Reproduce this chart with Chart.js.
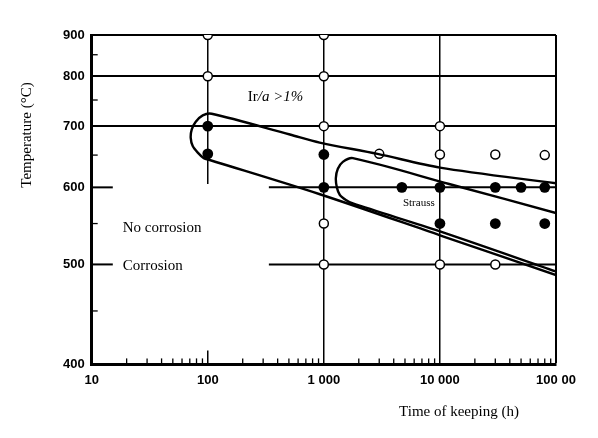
<!DOCTYPE html>
<html lang="en">
<head>
<meta charset="UTF-8" />
<title>Corrosion map</title>
<script src="https://cdn.jsdelivr.net/npm/chart.js"></script>
<style>
  html, body { margin: 0; padding: 0; background: #fff; }
  canvas { display: block; }
</style>
</head>
<body>
<canvas id="chart" width="598" height="438"></canvas>
<script>
  // axes: time of keeping (h), temperature (°C)
  const xTicks = [10, 100, 1000, 10000, 100000];
  const xTickLabels = ["10", "100", "1 000", "10 000", "100 00"];
  const xMinor = [20, 30, 40, 50, 60, 70, 80, 90];
  const yTicks = [400, 500, 600, 700, 800, 900];
  const yMinor = [450, 550, 650, 750, 850];
  const fullGridTemps = [700, 800, 900];
  const fullGridTimes = [1000, 10000, 100000];

  // test points
  const openTime = [100, 100, 1000, 1000, 1000, 10000, 3000, 10000, 30000, 80000, 1000, 1000, 10000, 30000];
  const openTemp = [900, 800, 900, 800, 700, 700, 652, 651, 651, 650, 550, 500, 500, 500];
  const fullTime = [100, 100, 1000, 1000, 4700, 10000, 30000, 50000, 80000, 10000, 30000, 80000];
  const fullTemp = [700, 652, 651, 600, 600, 600, 600, 600, 600, 550, 550, 550];

  // boundary Ir/a > 1%
  const outerTime = [100000, 10000, 2900, 920, 510, 108, 90.5, 78.8, 72.8, 71.3, 74.2, 82, 92.4, 104, 924, 10000, 100000];
  const outerTemp = [606, 630, 652, 671, 685, 723, 720, 708, 694, 679, 665, 654, 645, 642, 590, 535, 488];
  // boundary Strauss
  const innerTime = [100000, 12000, 1778, 1458, 1320, 1269, 1294, 1374, 1548, 1778, 10000, 100000];
  const innerTemp = [564, 605, 645, 639, 628, 614, 600, 589, 582, 577, 540, 492];

  // grid pieces broken by the label box
  const brokenGridTemps = [500, 600];
  const brokenGridFrom = 336;
  const stubTo = 15.2;
  const hundredLineTo = 605;

  const pts = (xs, ys) => xs.map((v, i) => ({ x: v, y: ys[i] }));

  // y axis spaced as 1/(T+273)
  class InvTempScale extends Chart.LinearScale {
    static id = "invtemp";
    static defaults = {};
    _inv(v) { return 1 / (v + 273); }
    getPixelForValue(v) {
      const a = this._inv(this.min), b = this._inv(this.max);
      return this.getPixelForDecimal((a - this._inv(v)) / (a - b));
    }
    getValueForPixel(p) {
      const a = this._inv(this.min), b = this._inv(this.max);
      const d = this.getDecimalForPixel(p);
      return 1 / (a - d * (a - b)) - 273;
    }
  }
  Chart.register(InvTempScale);

  const serif = "'Liberation Serif', 'Times New Roman', serif";
  const sans = "'Liberation Sans', Arial, sans-serif";

  const decor = {
    id: "decor",
    beforeDatasetsDraw(chart) {
      const { ctx, scales: { x, y } } = chart;
      const seg = (x1, y1, x2, y2) => { ctx.beginPath(); ctx.moveTo(x1, y1); ctx.lineTo(x2, y2); ctx.stroke(); };
      ctx.save();
      ctx.strokeStyle = "#000";
      ctx.lineWidth = 2;
      brokenGridTemps.forEach(T => {
        const py = y.getPixelForValue(T);
        seg(x.getPixelForValue(10), py, x.getPixelForValue(stubTo), py);
        seg(x.getPixelForValue(brokenGridFrom), py, x.getPixelForValue(100000), py);
      });
      ctx.lineWidth = 1.5;
      const p100 = x.getPixelForValue(100);
      seg(p100, y.getPixelForValue(900), p100, y.getPixelForValue(hundredLineTo));
      seg(p100, y.bottom, p100, y.bottom - 14);
      // minor ticks, pointing inward
      ctx.lineWidth = 1.3;
      yMinor.forEach(T => {
        const py = y.getPixelForValue(T);
        seg(x.left, py, x.left + 6, py);
      });
      [10, 100, 1000, 10000].forEach(dec => {
        xMinor.forEach(m => {
          const px = x.getPixelForValue(dec * m / 10);
          seg(px, y.bottom, px, y.bottom - 6);
        });
      });
      ctx.restore();
    },
    afterDraw(chart) {
      const { ctx, scales: { x, y } } = chart;
      ctx.save();
      ctx.fillStyle = "#000";
      ctx.textBaseline = "middle";
      ctx.textAlign = "left";
      let px = x.getPixelForValue(221);
      const py = y.getPixelForValue(755);
      ctx.font = "15px " + serif;
      ctx.fillText("Ir", px, py);
      px += ctx.measureText("Ir").width;
      ctx.font = "italic 15px " + serif;
      ctx.fillText("/a >1%", px, py);
      ctx.font = "15px " + serif;
      ctx.fillText("No corrosion", x.getPixelForValue(18.5), y.getPixelForValue(544));
      ctx.fillText("Corrosion", x.getPixelForValue(18.5), y.getPixelForValue(500) + 2);
      ctx.font = "11px " + serif;
      ctx.fillText("Strauss", x.getPixelForValue(4800), y.getPixelForValue(577));
      ctx.font = "15px " + serif;
      ctx.textAlign = "center";
      ctx.fillText("Time of keeping (h)", 459, 412);
      ctx.translate(27, 135);
      ctx.rotate(-Math.PI / 2);
      ctx.fillText("Temperature (°C)", 0, 0);
      ctx.restore();
    }
  };

  new Chart(document.getElementById("chart"), {
    type: "scatter",
    data: {
      datasets: [
        { data: pts(outerTime, outerTemp), showLine: true, borderColor: "#000", borderWidth: 2.4, pointRadius: 0, tension: 0.3 },
        { data: pts(innerTime, innerTemp), showLine: true, borderColor: "#000", borderWidth: 2.4, pointRadius: 0, tension: 0.3 },
        { data: pts(openTime, openTemp), pointRadius: 4.5, pointBackgroundColor: "#fff", pointBorderColor: "#000", pointBorderWidth: 1.5 },
        { data: pts(fullTime, fullTemp), pointRadius: 5.4, pointBackgroundColor: "#000", pointBorderColor: "#000", pointBorderWidth: 0 }
      ]
    },
    options: {
      responsive: false,
      animation: false,
      layout: { padding: { left: 56, right: 42, top: 35, bottom: 42 } },
      plugins: { legend: { display: false }, tooltip: { enabled: false } },
      scales: {
        x: {
          type: "logarithmic",
          min: 10,
          max: 100000,
          afterBuildTicks: s => { s.ticks = xTicks.map(v => ({ value: v })); },
          ticks: {
            autoSkip: false,
            maxRotation: 0,
            padding: 8,
            color: "#000",
            font: { family: sans, size: 13, weight: "bold" },
            callback: v => xTickLabels[xTicks.indexOf(v)]
          },
          grid: {
            drawTicks: false,
            color: c => fullGridTimes.includes(c.tick.value) ? "#000" : "rgba(0,0,0,0)",
            lineWidth: c => c.tick.value === 100000 ? 2 : 1.5
          },
          border: { display: true, color: "#000", width: 3 }
        },
        y: {
          type: "invtemp",
          min: 400,
          max: 900,
          bounds: "data",
          afterBuildTicks: s => { s.ticks = yTicks.map(v => ({ value: v })); },
          ticks: {
            autoSkip: false,
            padding: 7,
            color: "#000",
            font: { family: sans, size: 13, weight: "bold" },
            callback: v => String(v)
          },
          grid: {
            drawTicks: false,
            color: c => fullGridTemps.includes(c.tick.value) ? "#000" : "rgba(0,0,0,0)",
            lineWidth: 2
          },
          border: { display: true, color: "#000", width: 3 }
        }
      }
    },
    plugins: [decor]
  });
</script>
</body>
</html>
